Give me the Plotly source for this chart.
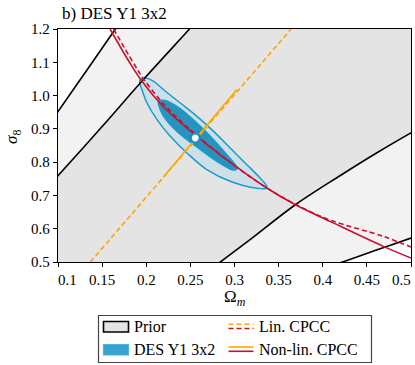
import plotly.graph_objects as go

# ---- data ----
x_range = [0.1, 0.5]
y_range = [0.5, 1.2]
x_ticks = [0.1, 0.15, 0.2, 0.25, 0.3, 0.35, 0.4, 0.45, 0.5]
x_ticklabels = ["0.1", "0.15", "0.2", "0.25", "0.3", "0.35", "0.4", "0.45", "0.5"]
y_ticks = [0.5, 0.6, 0.7, 0.8, 0.9, 1.0, 1.1, 1.2]
y_ticklabels = ["0.5", "0.6", "0.7", "0.8", "0.9", "1.0", "1.1", "1.2"]

# prior contours (2 sigma = outer, 1 sigma = inner)
prior2_upper_x = [0.07, 0.10, 0.135, 0.165, 0.175]
prior2_upper_y = [0.838, 0.952, 1.085, 1.200, 1.238]
prior1_upper_x = [0.07, 0.10, 0.15, 0.195, 0.249, 0.26]
prior1_upper_y = [0.670, 0.759, 0.907, 1.043, 1.200, 1.233]
prior1_lower_x = [0.27, 0.284, 0.318, 0.369, 0.42, 0.46, 0.50, 0.53]
prior1_lower_y = [0.470, 0.500, 0.568, 0.672, 0.760, 0.826, 0.888, 0.930]
prior2_lower_x = [0.40, 0.4226, 0.46, 0.50, 0.53]
prior2_lower_y = [0.480, 0.500, 0.535, 0.572, 0.600]

# DES Y1 3x2 posterior contours
des_outer_x = [0.1933, 0.199, 0.2084, 0.2197, 0.2386, 0.2574, 0.2763, 0.2951, 0.314, 0.329, 0.3366,
               0.3358, 0.3253, 0.2951, 0.2687, 0.2461, 0.2272, 0.2122, 0.2009, 0.1952, 0.1926]
des_outer_y = [1.0477, 1.0527, 1.0427, 1.0176, 0.9776, 0.9376, 0.8925, 0.8425, 0.7924, 0.7524, 0.7274,
               0.7213, 0.7213, 0.7424, 0.7774, 0.8275, 0.8775, 0.9276, 0.9776, 1.0176, 1.0397]
des_inner_x = [0.214, 0.2197, 0.2348, 0.2574, 0.2763, 0.2913, 0.3008, 0.3026,
               0.297, 0.280, 0.2574, 0.2348, 0.2197, 0.214]
des_inner_y = [0.9826, 0.9856, 0.9676, 0.9175, 0.8675, 0.8225, 0.7924, 0.7794,
               0.7774, 0.8024, 0.8455, 0.8925, 0.9376, 0.9726]
des_best_x = [0.2555]
des_best_y = [0.8725]

# CPCC curves
lin_orange_x = [0.1368, 0.2555, 0.3641]
lin_orange_y = [0.500, 0.866, 1.200]
nonlin_orange_x = [0.220, 0.2555, 0.3027]
nonlin_orange_y = [0.757, 0.870, 1.018]
lin_red_x = [0.163, 0.185, 0.197, 0.223, 0.2585, 0.300, 0.3366, 0.370, 0.4083, 0.4686, 0.500]
lin_red_y = [1.200, 1.100, 1.050, 0.965, 0.8775, 0.790, 0.7225, 0.672, 0.626, 0.577, 0.545]
nonlin_red_x = [0.159, 0.181, 0.1933, 0.220, 0.2574, 0.300, 0.3366, 0.369, 0.4083, 0.4686, 0.500]
nonlin_red_y = [1.200, 1.100, 1.050, 0.965, 0.8775, 0.790, 0.7223, 0.672, 0.622, 0.547, 0.512]

# ---- styles ----
FONT = "Liberation Serif"
GRAY_DARK = "#e4e4e4"
GRAY_LIGHT = "#f2f2f2"
BLUE_LINE = "#1a9bd0"
BLUE_IN = "#2893bd"
BLUE_OUT = "#cde0e8"
RED = "#c8102e"
ORANGE = "#ffa500"

pad_lo_x, pad_hi_x = x_range[0] - 0.05, x_range[1] + 0.05
pad_lo_y, pad_hi_y = y_range[0] - 0.05, y_range[1] + 0.05

fig = go.Figure()

# outer prior region (light)
px2 = prior2_upper_x[::-1] + [pad_lo_x, pad_lo_x] + prior2_lower_x + [pad_hi_x, pad_hi_x]
py2 = prior2_upper_y[::-1] + [prior2_upper_y[0], pad_lo_y] + prior2_lower_y + [prior2_lower_y[-1], pad_hi_y]
fig.add_trace(go.Scatter(x=px2, y=py2, fill="toself", fillcolor=GRAY_LIGHT, mode="none",
                         showlegend=False, hoverinfo="skip"))
# inner prior region (dark)
px1 = prior1_upper_x[::-1] + [pad_lo_x, pad_lo_x] + prior1_lower_x + [pad_hi_x, pad_hi_x]
py1 = prior1_upper_y[::-1] + [prior1_upper_y[0], pad_lo_y] + prior1_lower_y + [prior1_lower_y[-1], pad_hi_y]
fig.add_trace(go.Scatter(x=px1, y=py1, fill="toself", fillcolor=GRAY_DARK, mode="none",
                         showlegend=False, hoverinfo="skip"))

# DES fills
fig.add_trace(go.Scatter(x=des_outer_x + des_outer_x[:1], y=des_outer_y + des_outer_y[:1], fill="toself",
                         fillcolor=BLUE_OUT, mode="lines", line=dict(color=BLUE_LINE, width=1.5, shape="spline"),
                         showlegend=False))
fig.add_trace(go.Scatter(x=des_inner_x + des_inner_x[:1], y=des_inner_y + des_inner_y[:1], fill="toself",
                         fillcolor=BLUE_IN, mode="lines", line=dict(color=BLUE_LINE, width=1.5, shape="spline"),
                         showlegend=False))

# prior contour lines
for xs, ys in [(prior2_upper_x, prior2_upper_y), (prior1_upper_x, prior1_upper_y),
               (prior1_lower_x, prior1_lower_y), (prior2_lower_x, prior2_lower_y)]:
    fig.add_trace(go.Scatter(x=xs, y=ys, mode="lines", line=dict(color="black", width=1.6, shape="spline"),
                             showlegend=False))

# CPCC lines
fig.add_trace(go.Scatter(x=lin_orange_x, y=lin_orange_y, mode="lines",
                         line=dict(color=ORANGE, width=1.6, dash="5px,3px"), showlegend=False))
fig.add_trace(go.Scatter(x=nonlin_orange_x, y=nonlin_orange_y, mode="lines",
                         line=dict(color=ORANGE, width=1.6), showlegend=False))
fig.add_trace(go.Scatter(x=lin_red_x, y=lin_red_y, mode="lines",
                         line=dict(color=RED, width=1.6, dash="5px,3px", shape="spline"), showlegend=False))
fig.add_trace(go.Scatter(x=nonlin_red_x, y=nonlin_red_y, mode="lines",
                         line=dict(color=RED, width=1.6, shape="spline"), showlegend=False))

# best-fit point
fig.add_trace(go.Scatter(x=des_best_x, y=des_best_y, mode="markers",
                         marker=dict(size=9, color="white", line=dict(color="#1a8fc0", width=2.2)),
                         showlegend=False))

# ---- layout ----
W, H = 415, 365
ML, MR, MT, MB = 58, 4, 29, 103
PW, PH = W - ML - MR, H - MT - MB


def pxp(px):
    return (px - ML) / PW


def pyp(py):
    return (H - MB - py) / PH


axis_common = dict(showgrid=False, zeroline=False, showline=True, linecolor="black", linewidth=1.3,
                   mirror=True, ticks="outside", ticklen=4, tickwidth=1.2, tickcolor="black",
                   automargin=False,
                   tickfont=dict(family=FONT, size=15, color="black"))

# edge x tick labels are nudged inwards (as in the reference) and drawn separately
x_ticktext_axis = [""] + x_ticklabels[1:-1] + [""]

fig.update_layout(
    width=W, height=H,
    margin=dict(l=ML, r=MR, t=MT, b=MB, autoexpand=False),
    paper_bgcolor="white", plot_bgcolor="white",
    xaxis=dict(range=x_range, tickvals=x_ticks, ticktext=x_ticktext_axis, **axis_common),
    yaxis=dict(range=y_range, tickvals=y_ticks, ticktext=y_ticklabels, **axis_common),
    showlegend=False,
)

TICKFONT = dict(family=FONT, size=15, color="black")
annotations = [
    dict(text=x_ticklabels[0], x=pxp(67.5), y=pyp(280), xanchor="center", yanchor="middle", font=TICKFONT),
    dict(text=x_ticklabels[-1], x=pxp(401), y=pyp(280), xanchor="center", yanchor="middle", font=TICKFONT),
    dict(text="b) DES Y1 3x2", x=pxp(60), y=pyp(13.5), xanchor="left", yanchor="middle",
         font=dict(family=FONT, size=17, color="black")),
    dict(text="Ω<sub><i>m</i></sub>", x=0.5, y=pyp(298), xanchor="center", yanchor="middle",
         font=dict(family=FONT, size=17, color="black")),
    dict(text="<i>σ</i><sub>8</sub>", x=pxp(13), y=pyp(137), xanchor="center", yanchor="middle",
         textangle=-90, font=dict(family=FONT, size=17, color="black")),
    dict(text="Prior", x=pxp(132), y=pyp(326.5), xanchor="left", yanchor="middle",
         font=dict(family=FONT, size=16, color="black")),
    dict(text="DES Y1 3x2", x=pxp(132), y=pyp(349.5), xanchor="left", yanchor="middle",
         font=dict(family=FONT, size=16, color="black")),
    dict(text="Lin. CPCC", x=pxp(257), y=pyp(326.5), xanchor="left", yanchor="middle",
         font=dict(family=FONT, size=16, color="black")),
    dict(text="Non-lin. CPCC", x=pxp(257), y=pyp(349.5), xanchor="left", yanchor="middle",
         font=dict(family=FONT, size=16, color="black")),
]
for a in annotations:
    a.update(xref="paper", yref="paper", showarrow=False)
fig.update_layout(annotations=annotations)

shapes = [
    # legend frame
    dict(type="rect", x0=pxp(98.5), x1=pxp(371.5), y0=pyp(315.5), y1=pyp(362.5),
         line=dict(color="#444444", width=1.2), fillcolor="white"),
    # prior patch
    dict(type="rect", x0=pxp(103.5), x1=pxp(128.5), y0=pyp(321.5), y1=pyp(332),
         line=dict(color="black", width=1.6), fillcolor=GRAY_DARK),
    # DES patch
    dict(type="rect", x0=pxp(103.5), x1=pxp(128.5), y0=pyp(344.5), y1=pyp(355),
         line=dict(color="#4fb3de", width=1.2), fillcolor="#34a3d0"),
    # Lin CPCC lines
    dict(type="line", x0=pxp(228.5), x1=pxp(253.5), y0=pyp(324.2), y1=pyp(324.2),
         line=dict(color=ORANGE, width=1.6, dash="5px,3px")),
    dict(type="line", x0=pxp(228.5), x1=pxp(253.5), y0=pyp(328.5), y1=pyp(328.5),
         line=dict(color=RED, width=1.6, dash="5px,3px")),
    # Non-lin CPCC lines
    dict(type="line", x0=pxp(228.5), x1=pxp(253.5), y0=pyp(347), y1=pyp(347),
         line=dict(color=ORANGE, width=1.6)),
    dict(type="line", x0=pxp(228.5), x1=pxp(253.5), y0=pyp(351.3), y1=pyp(351.3),
         line=dict(color=RED, width=1.6)),
]
for s in shapes:
    s.update(xref="paper", yref="paper")
fig.update_layout(shapes=shapes)

fig.write_html("out.html", config={"displayModeBar": False},
               post_script="document.body.style.margin='0';document.body.style.overflow='hidden';")
